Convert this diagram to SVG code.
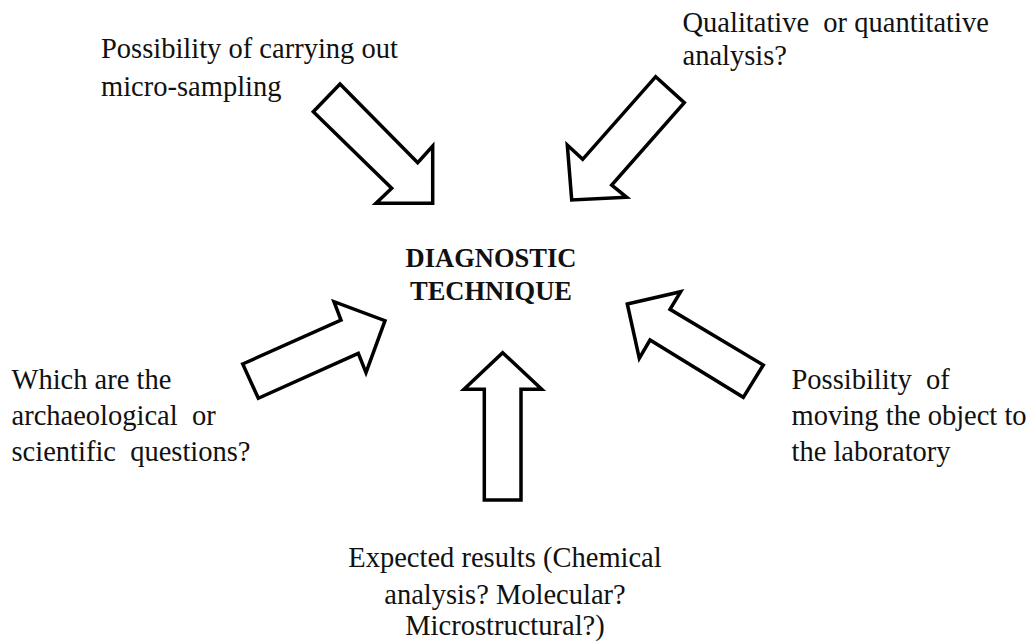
<svg xmlns="http://www.w3.org/2000/svg" width="1030" height="642" viewBox="0 0 1030 642">
<style>
.arr{fill:#fff;stroke:#000;stroke-width:3.5;stroke-linejoin:miter}
</style>
<rect width="1030" height="642" fill="#fff"/>
<g font-family="Liberation Serif, DejaVu Serif, Noto Serif, Times New Roman, serif" font-size="28.5" fill="#111">
<g id="center" font-weight="bold" font-size="26.5">
<text x="491" y="266.5" text-anchor="middle">DIAGNOSTIC</text>
<text x="491" y="300" text-anchor="middle">TECHNIQUE</text>
</g>
<g id="n-microsampling">
<text x="101" y="57.5">Possibility of carrying out</text>
<text x="101" y="96">micro-sampling</text>
</g>
<g id="n-qualitative">
<text x="682.5" y="31.5" xml:space="preserve">Qualitative  or quantitative</text>
<text x="682.5" y="65">analysis?</text>
</g>
<g id="n-questions">
<text x="11.5" y="388.5">Which are the</text>
<text x="11.5" y="425" xml:space="preserve">archaeological  or</text>
<text x="11.5" y="460.5" xml:space="preserve">scientific  questions?</text>
</g>
<g id="n-moving">
<text x="791.5" y="388.5" xml:space="preserve">Possibility  of</text>
<text x="791.5" y="425">moving the object to</text>
<text x="791.5" y="460.5">the laboratory</text>
</g>
<g id="n-results">
<text x="505" y="566.5" text-anchor="middle">Expected results (Chemical</text>
<text x="505" y="603.5" text-anchor="middle">analysis? Molecular?</text>
<text x="505" y="635" text-anchor="middle">Microstructural?)</text>
</g>
</g>
<g id="connectors">
<polygon class="arr" points="340,84 417.7,162.7 432.7,146 432.7,203.3 376,203.3 391.7,188.3 313.3,111.7"/>
<polygon class="arr" points="655.7,76.7 684.3,102.7 611.7,185 626.7,197.3 571.7,200 567.3,145 582.7,159.3"/>
<polygon class="arr" points="242.7,364 341,320 334,301.7 385,320.7 366,372.7 358.3,353.3 258.3,398.3"/>
<polygon class="arr" points="627.3,304 680.7,291.7 670,309.3 763.3,365 743.3,397.3 650,340 639.3,358.3"/>
<polygon class="arr" points="502.7,352.7 541.7,389.3 521,389.3 521,500 484.3,500 484.3,389.3 464,389.3"/>
</g>
</svg>
